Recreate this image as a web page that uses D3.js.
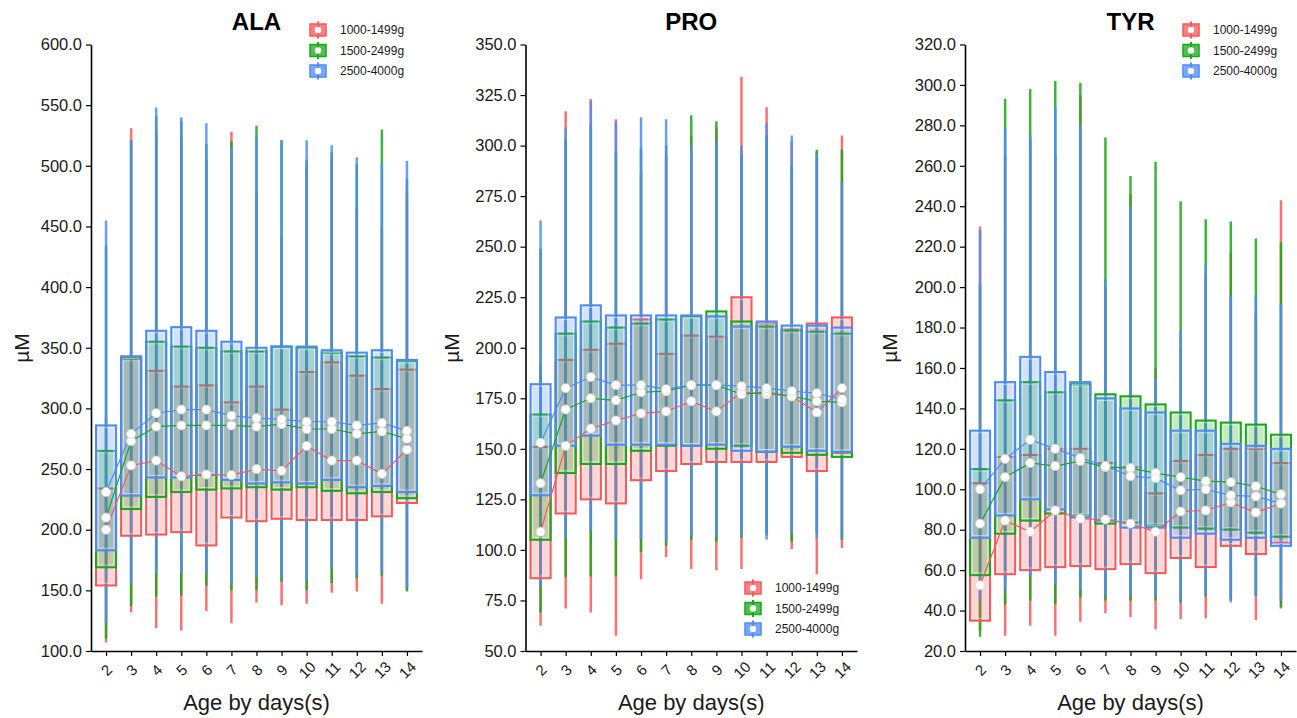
<!DOCTYPE html>
<html>
<head>
<meta charset="utf-8">
<script src="https://cdn.jsdelivr.net/npm/d3@7"></script>
<style>
  body { margin: 0; background: #fff; }
  text { font-family: "Liberation Sans", Arial, sans-serif; }
</style>
</head>
<body>
<svg id="chart" width="1297" height="718"></svg>
<script>
const days = [2, 3, 4, 5, 6, 7, 8, 9, 10, 11, 12, 13, 14];
const groups = ['1000-1499g', '1500-2499g', '2500-4000g'];
const colors = ['#F8585A', '#19A819', '#4D8CF8'];

// ALA  (rows: 1000-1499g, 1500-2499g, 2500-4000g)
const alaHi = [
  [293, 531, 529, 524, 505, 528, 478, 442, 500, 505, 465, 449, 478],
  [434, 521, 541, 537, 518, 520, 533, 521, 505, 511, 501, 530, 489],
  [455, 521, 548, 540, 535, 515, 525, 521, 521, 517, 507, 502, 504]
];
const alaQ3 = [
  [234, 342, 331, 318, 319, 305, 318, 299, 330, 338, 327, 316, 332],
  [265, 341, 355, 351, 350, 347, 347, 351, 350, 346, 343, 342, 339],
  [286, 343, 364, 367, 364, 355, 350, 351, 351, 348, 346, 348, 340]
];
const alaQ1 = [
  [154, 195, 196, 198, 187, 210, 207, 209, 208, 208, 208, 211, 222],
  [169, 217, 227, 231, 233, 234, 235, 233, 235, 232, 230, 231, 226],
  [183, 228, 243, 243, 245, 241, 238, 239, 238, 241, 235, 236, 231]
];
const alaLo = [
  [107, 132, 119, 117, 133, 123, 140, 138, 139, 148, 149, 139, 150],
  [110, 137, 145, 146, 154, 150, 150, 157, 150, 156, 160, 162, 149],
  [123, 156, 164, 164, 164, 156, 161, 160, 158, 168, 163, 165, 152]
];
const alaMean = [
  [200, 253, 257, 244, 245.5, 245, 250, 248.5, 269, 257, 257, 246, 266],
  [210, 273, 285, 286, 286, 286, 285, 287, 283, 283, 279, 281, 275],
  [231, 279, 296, 299, 299, 294, 292, 291, 289, 289, 286, 288, 281.5]
];

// PRO
const proHi = [
  [191, 317, 323, 313, 287, 295, 305, 309, 334, 319, 302, 297, 305],
  [249, 303, 310, 297, 299, 300, 315, 312, 296, 305, 290, 298, 298],
  [263, 309, 322, 312, 314, 313, 300, 302, 300, 311, 305, 296, 282]
];
const proQ3 = [
  [151, 194, 199, 202, 214, 197, 206, 205.5, 225, 212, 209, 212, 215],
  [167, 207, 213, 210, 212, 214, 215.5, 218, 213, 210.5, 208.5, 208, 207],
  [182, 215, 221, 216, 216, 216, 216, 215.5, 210.5, 213, 211, 211, 210]
];
const proQ1 = [
  [86, 118, 125, 123, 134.5, 139, 142.5, 143.5, 143.5, 143.5, 146, 139, 148],
  [105, 138, 142.5, 142.5, 149, 151.5, 151.5, 150, 151.5, 148.5, 148, 147, 146],
  [127, 151.5, 156.5, 152, 152, 152, 151.5, 152, 149, 148.5, 151, 149, 148.5]
];
const proLo = [
  [62.5, 71, 69, 57.5, 85.5, 96.5, 90.5, 90, 90.5, 107, 100.5, 88, 101],
  [69, 86.5, 87, 87, 99, 102, 105, 104, 106, 108, 104, 108.5, 105],
  [82, 106, 109.5, 105.5, 105.5, 104.5, 107, 107, 107, 105, 108.5, 105.5, 105.5]
];
const proMean = [
  [109, 151.5, 160, 164, 167.5, 168.5, 173.5, 168.5, 178, 177, 176, 168, 180],
  [133, 169.5, 175, 174, 178, 178.5, 181.5, 181.5, 177, 178, 176, 173.5, 173],
  [153, 180, 185.5, 181.5, 181.5, 179.5, 181.5, 181.5, 181, 180, 178.5, 177.5, 174.5]
];

// TYR
const tyrHi = [
  [230, 265, 272.5, 265, 295, 200, 246, 160, 170, 205, 217, 187, 243],
  [201, 293, 298, 302, 301, 274, 255, 262, 242.5, 233.5, 232.5, 224, 222],
  [228, 279, 275, 289, 280, 204, 240, 155, 178, 211, 196, 196, 191.5]
];
const tyrQ3 = [
  [103, 116, 117, 120, 120, 113, 111, 98, 114, 117, 120, 120, 113],
  [110, 144, 153, 148, 152, 147, 146, 142, 138, 134, 133, 132, 127],
  [129, 153, 165.5, 158, 153, 145, 140, 138, 129, 129, 122.5, 121.5, 120]
];
const tyrQ1 = [
  [35, 58, 60, 61.5, 62, 60.5, 63, 58.5, 66, 61.5, 72, 68, 73.5],
  [57.5, 78, 84.5, 88, 87, 83, 83.5, 82, 81, 80.5, 80, 78.5, 76.5],
  [76, 87, 95, 90, 86, 84.5, 81, 81, 76, 78, 75, 76, 72]
];
const tyrLo = [
  [30, 27.5, 32.5, 27.5, 34.5, 38.8, 36.7, 30.6, 35.8, 36.2, 46, 35.3, 41],
  [27, 43, 45, 43, 46.5, 45, 45, 45, 44, 47, 45, 47.4, 41.6],
  [45, 50, 57, 53, 50, 47.4, 47.4, 47, 44, 47.4, 44, 47, 45]
];
const tyrMean = [
  [52.5, 84.5, 79, 89.5, 85.5, 85, 83, 79, 89, 89.5, 93.5, 88.5, 93],
  [83, 106, 113, 111.5, 114, 111, 110.5, 108, 106, 104, 103.5, 101.5, 97.5],
  [100, 115, 124.5, 120, 115.5, 111.5, 106.5, 105.5, 99.5, 100, 97, 96.5, 93]
];

const svg = d3.select('#chart');
const plotTop = 44.5;
const plotBottom = 651;

const panels = [
  { title: 'ALA', x0: 91, x1: 422, yMin: 100, yMax: 600, step: 50, ylabX: 22, legX: 310, legY: 30,
    lo: alaLo, q1: alaQ1, q3: alaQ3, hi: alaHi, mean: alaMean },
  { title: 'PRO', x0: 525.5, x1: 857, yMin: 50, yMax: 350, step: 25, ylabX: 452, legX: 745, legY: 588,
    lo: proLo, q1: proQ1, q3: proQ3, hi: proHi, mean: proMean },
  { title: 'TYR', x0: 965, x1: 1296, yMin: 20, yMax: 320, step: 20, ylabX: 890, legX: 1183, legY: 30,
    lo: tyrLo, q1: tyrQ1, q3: tyrQ3, hi: tyrHi, mean: tyrMean }
];

panels.forEach(p => {
  const g = svg.append('g');

  const x = d3.scalePoint()
    .domain(days)
    .range([p.x0, p.x1])
    .padding(0.6);

  const y = d3.scaleLinear()
    .domain([p.yMin, p.yMax])
    .range([plotBottom, plotTop]);

  const bw = x.step() * 0.8;

  // whiskers (full range)
  groups.forEach((grp, gi) => {
    g.append('g').selectAll('line')
      .data(days)
      .enter()
      .append('line')
      .attr('x1', d => x(d))
      .attr('x2', d => x(d))
      .attr('y1', (d, i) => y(p.hi[gi][i]))
      .attr('y2', (d, i) => y(p.lo[gi][i]))
      .attr('stroke', colors[gi])
      .attr('stroke-opacity', 0.85)
      .attr('stroke-width', 2.5);
  });

  // boxes
  groups.forEach((grp, gi) => {
    const bg = g.append('g');
    bg.selectAll('rect.box')
      .data(days)
      .enter()
      .append('rect')
      .attr('class', 'box')
      .attr('x', d => x(d) - bw / 2)
      .attr('width', bw)
      .attr('y', (d, i) => y(p.q3[gi][i]))
      .attr('height', (d, i) => y(p.q1[gi][i]) - y(p.q3[gi][i]))
      .attr('fill', colors[gi])
      .attr('fill-opacity', 0.25)
      .attr('stroke', colors[gi])
      .attr('stroke-width', 2);
    bg.selectAll('rect.inner')
      .data(days)
      .enter()
      .append('rect')
      .attr('class', 'inner')
      .attr('x', d => x(d) - bw / 2 + 2.2)
      .attr('width', bw - 4.4)
      .attr('y', (d, i) => y(p.q3[gi][i]) + 2.2)
      .attr('height', (d, i) => Math.max(0, y(p.q1[gi][i]) - y(p.q3[gi][i]) - 4.4))
      .attr('fill', 'none')
      .attr('stroke', '#ffffff')
      .attr('stroke-opacity', 0.45)
      .attr('stroke-width', 1);
  });

  // mean lines
  groups.forEach((grp, gi) => {
    const line = d3.line()
      .x((d, i) => x(days[i]))
      .y(d => y(d));
    g.append('path')
      .datum(p.mean[gi])
      .attr('d', line)
      .attr('fill', 'none')
      .attr('stroke', colors[gi])
      .attr('stroke-width', 1.2);
  });

  // mean points
  groups.forEach((grp, gi) => {
    g.append('g').selectAll('circle')
      .data(p.mean[gi])
      .enter()
      .append('circle')
      .attr('cx', (d, i) => x(days[i]))
      .attr('cy', d => y(d))
      .attr('r', 4.5)
      .attr('fill', '#ffffff')
      .attr('stroke', '#d8d8d8')
      .attr('stroke-width', 0.8);
  });

  // axes
  const yAxis = g.append('g')
    .attr('transform', `translate(${p.x0}, 0)`)
    .call(d3.axisLeft(y)
      .tickValues(d3.range(p.yMin, p.yMax + 0.001, p.step))
      .tickFormat(d3.format('.1f'))
      .tickSize(5)
      .tickSizeOuter(0)
      .tickPadding(4));
  yAxis.select('.domain').attr('stroke', '#000').attr('stroke-width', 1.6);
  yAxis.selectAll('.tick line').attr('stroke', '#000').attr('stroke-width', 1.2);
  yAxis.selectAll('.tick text')
    .style('font-family', '"Liberation Sans", Arial, sans-serif')
    .style('font-size', '16.5px')
    .attr('fill', '#1a1a1a');

  const xAxis = g.append('g')
    .attr('transform', `translate(0, ${plotBottom})`)
    .call(d3.axisBottom(x).tickSize(5).tickSizeOuter(0));
  xAxis.select('.domain').attr('stroke', '#000').attr('stroke-width', 1.6);
  xAxis.selectAll('.tick line').attr('stroke', '#000').attr('stroke-width', 1.2);
  xAxis.selectAll('.tick text')
    .attr('y', 0)
    .attr('dy', '0.35em')
    .attr('transform', 'translate(0, 19) rotate(-45)')
    .attr('text-anchor', 'middle')
    .style('font-family', '"Liberation Sans", Arial, sans-serif')
    .style('font-size', '15px')
    .attr('fill', '#1a1a1a');

  // titles
  svg.append('text')
    .attr('x', (p.x0 + p.x1) / 2)
    .attr('y', 30)
    .attr('text-anchor', 'middle')
    .style('font-size', '24px')
    .style('font-weight', 'bold')
    .text(p.title);

  svg.append('text')
    .attr('x', (p.x0 + p.x1) / 2)
    .attr('y', 710)
    .attr('text-anchor', 'middle')
    .style('font-size', '22px')
    .attr('fill', '#1a1a1a')
    .text('Age by days(s)');

  svg.append('text')
    .attr('transform', `translate(${p.ylabX}, 348) rotate(-90)`)
    .attr('text-anchor', 'middle')
    .attr('dy', '0.35em')
    .style('font-size', '21px')
    .attr('fill', '#1a1a1a')
    .text('µM');

  // legend
  const leg = svg.append('g')
    .attr('transform', `translate(${p.legX}, ${p.legY})`);
  groups.forEach((grp, gi) => {
    const k = leg.append('g').attr('transform', `translate(0, ${gi * 20.5})`);
    k.append('line')
      .attr('x1', 8).attr('x2', 8).attr('y1', -8.5).attr('y2', 8.5)
      .attr('stroke', colors[gi]).attr('stroke-width', 2);
    k.append('rect')
      .attr('x', 0).attr('y', -6).attr('width', 16).attr('height', 12)
      .attr('fill', colors[gi]).attr('fill-opacity', 0.75)
      .attr('stroke', colors[gi]).attr('stroke-width', 1.5);
    k.append('circle')
      .attr('cx', 8).attr('cy', 0).attr('r', 3.2)
      .attr('fill', '#fff');
    k.append('text')
      .attr('x', 30).attr('y', 0).attr('dy', '0.35em')
      .style('font-size', '12px')
      .attr('fill', '#1a1a1a')
      .text(grp);
  });
});
</script>
</body>
</html>
